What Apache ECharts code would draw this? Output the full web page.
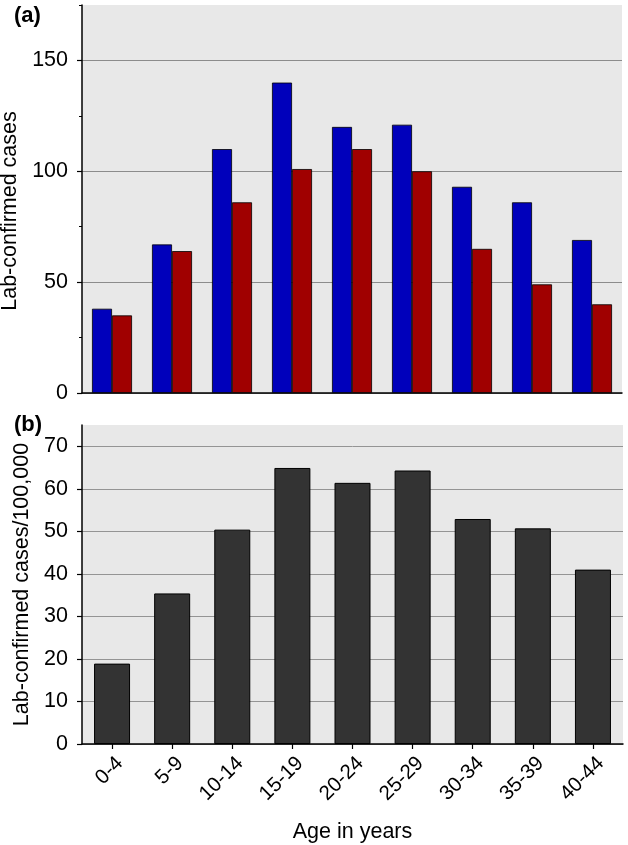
<!DOCTYPE html>
<html>
<head>
<meta charset="utf-8">
<script src="https://cdn.jsdelivr.net/npm/echarts@6/dist/echarts.min.js"></script>
<style>
html,body{margin:0;padding:0;background:#fff;}
#chart{width:628px;height:845px;}
</style>
</head>
<body>
<div id="chart"></div>
<script>
const categories = ['0-4','5-9','10-14','15-19','20-24','25-29','30-34','35-39','40-44'];
const casesBlue = [38, 67, 110, 140, 120, 121, 93, 86, 69];
const casesRed = [35, 64, 86, 101, 110, 100, 65, 49, 40];
const ratePer100k = [18.9, 35.4, 50.4, 64.9, 61.4, 64.3, 52.9, 50.7, 41.0];
const topMajorTicks = [0, 50, 100, 150];
const bottomTicks = [0, 10, 20, 30, 40, 50, 60, 70];

const FONT = 'Liberation Sans, Arial, Helvetica, sans-serif';
const chart = echarts.init(document.getElementById('chart'), null, {renderer: 'canvas'});

const option = {
  animation: false,
  backgroundColor: '#ffffff',
  textStyle: {fontFamily: FONT},
  graphic: [
    {type: 'text', left: 14, top: 5, style: {text: '(a)', font: 'bold 22px ' + FONT, fill: '#000'}},
    {type: 'text', left: 14, top: 414, style: {text: '(b)', font: 'bold 22px ' + FONT, fill: '#000'}}
  ],
  grid: [
    {left: 82, top: 5, width: 540, height: 388, show: true, backgroundColor: '#e8e8e8', borderWidth: 0, containLabel: false, outerBoundsMode: 'none'},
    {left: 82, top: 425, width: 541, height: 319, show: true, backgroundColor: '#e8e8e8', borderWidth: 0, containLabel: false, outerBoundsMode: 'none'}
  ],
  xAxis: [
    {
      type: 'category', gridIndex: 0, data: categories,
      axisLine: {lineStyle: {color: '#000', width: 1.5}},
      axisTick: {show: false}, axisLabel: {show: false}, splitLine: {show: false}
    },
    {
      type: 'category', gridIndex: 1, data: categories,
      axisLine: {lineStyle: {color: '#000', width: 1.5}},
      axisTick: {show: true, alignWithLabel: true, length: 5, lineStyle: {color: '#000', width: 1.2}},
      axisLabel: {rotate: 45, fontSize: 20.5, color: '#000', margin: 24, fontFamily: FONT, padding: [0, -11, 0, 0]},
      name: 'Age in years', nameLocation: 'middle', nameGap: 77,
      nameTextStyle: {fontSize: 21.5, color: '#000', fontFamily: FONT}
    }
  ],
  yAxis: [
    {
      type: 'value', gridIndex: 0, position: 'left', min: 0, max: 175, interval: 25,
      axisLine: {show: true, lineStyle: {color: '#000', width: 1.5}},
      axisTick: {show: true, length: 3, lineStyle: {color: '#000', width: 1}},
      axisLabel: {fontSize: 21.5, color: '#000', margin: 14, fontFamily: FONT,
        formatter: function (v) { return v % 50 === 0 ? String(v) : ''; }},
      splitLine: {show: true, showMaxLine: false, lineStyle: {color: ['#8c8c8c', 'rgba(0,0,0,0)'], width: 1}},
      name: 'Lab-confirmed cases', nameLocation: 'middle', nameGap: 58,
      nameTextStyle: {fontSize: 21.5, color: '#000', fontFamily: FONT, padding: [0, 24, 0, 0]}
    },
    {
      type: 'value', gridIndex: 0, position: 'left', offset: 0, min: 0, max: 175, interval: 25,
      axisLine: {show: false}, axisLabel: {show: false}, splitLine: {show: false},
      axisTick: {show: true, length: 5, customValues: topMajorTicks, lineStyle: {color: '#000', width: 1.2}}
    },
    {
      type: 'value', gridIndex: 1, position: 'left', min: 0, max: 75, interval: 10,
      axisLine: {show: true, lineStyle: {color: '#000', width: 1.5}},
      axisTick: {show: true, length: 5, customValues: bottomTicks, lineStyle: {color: '#000', width: 1.2}},
      axisLabel: {fontSize: 21.5, color: '#000', margin: 14, fontFamily: FONT, customValues: bottomTicks},
      splitLine: {show: true, lineStyle: {color: '#949494', width: 1}},
      name: 'Lab-confirmed cases/100,000', nameLocation: 'middle', nameGap: 46,
      nameTextStyle: {fontSize: 21.5, color: '#000', fontFamily: FONT}
    }
  ],
  series: [
    {
      type: 'bar', xAxisIndex: 0, yAxisIndex: 0, data: casesBlue,
      barWidth: 20, barGap: '0%',
      itemStyle: {color: '#0000bb', borderColor: '#000', borderWidth: 0.8}
    },
    {
      type: 'bar', xAxisIndex: 0, yAxisIndex: 0, data: casesRed,
      barWidth: 20, barGap: '0%',
      itemStyle: {color: '#a00000', borderColor: '#000', borderWidth: 0.8}
    },
    {
      type: 'bar', xAxisIndex: 1, yAxisIndex: 2, data: ratePer100k,
      barWidth: 36,
      itemStyle: {color: '#333333', borderColor: '#000', borderWidth: 1}
    }
  ]
};
chart.setOption(option);
</script>
</body>
</html>
